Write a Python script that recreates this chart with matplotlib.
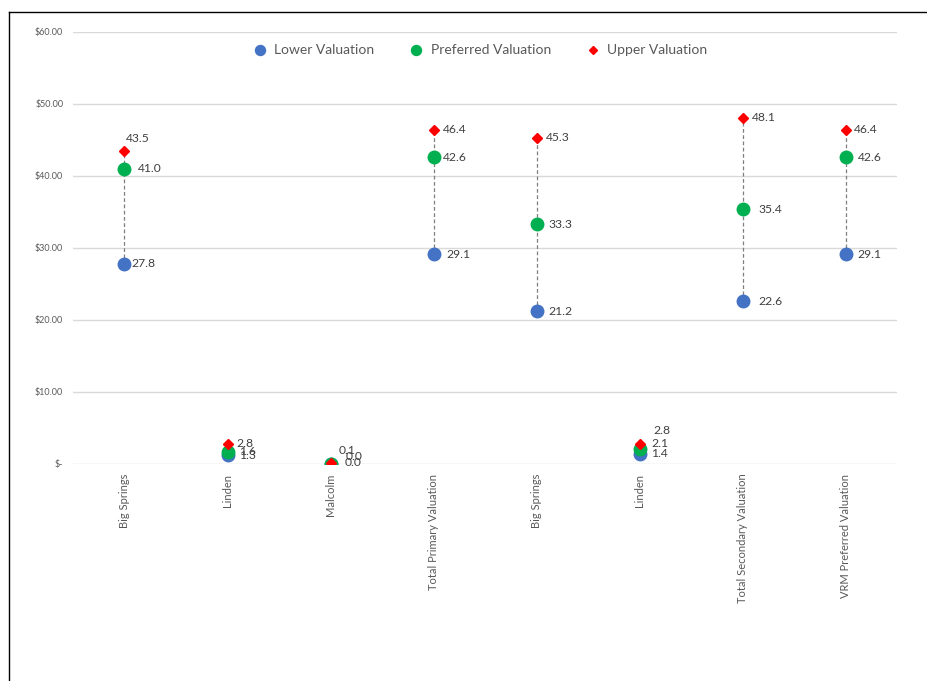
import matplotlib.pyplot as plt
from matplotlib.lines import Line2D
import numpy as np

plt.rcParams['font.family'] = ['Lato', 'DejaVu Sans']

categories = ["Big Springs", "Linden", "Malcolm", "Total Primary Valuation",
              "Big Springs", "Linden", "Total Secondary Valuation", "VRM Preferred Valuation"]
lower = [27.8, 1.3, 0.0, 29.1, 21.2, 1.4, 22.6, 29.1]
preferred = [41.0, 1.6, 0.0, 42.6, 33.3, 2.1, 35.4, 42.6]
upper = [43.5, 2.8, 0.1, 46.4, 45.3, 2.8, 48.1, 46.4]
y_ticks = [0, 10, 20, 30, 40, 50, 60]
y_tick_labels = ["$-", "$10.00", "$20.00", "$30.00", "$40.00", "$50.00", "$60.00"]

# label offsets in pixels (dx, dy), tuned by eye
off_lower = [(7, 0), (12, -1), (14, 2), (13, 0), (12, 0), (12, 0), (16, 0), (12, 0)]
off_pref = [(13, 0), (12, 1), (15, 8), (9, 0), (12, 0), (12, 5), (16, 0), (12, 0)]
off_upper = [(1, 12), (9, 0), (8, 13), (9, 0), (9, 0), (14, 13), (9, 0), (8, 0)]

blue = "#4472C4"
green = "#00B050"
red = "#FF0000"
grey_txt = "#595959"

fig = plt.figure(figsize=(9.28, 6.81), dpi=100)
ax = fig.add_axes([73 / 928, 1 - 464 / 681, (897 - 73) / 928, (464 - 32) / 681])

x = np.arange(len(categories))
ax.set_xlim(-0.5, len(categories) - 0.5)
ax.set_ylim(0, 60)

ax.vlines(x, lower, upper, colors="#7F7F7F", linestyles=(0, (3, 2)), linewidth=0.9, zorder=2)
ax.plot(x, lower, 'o', color=blue, markersize=9, linestyle='none', label="Lower Valuation", zorder=3)
ax.plot(x, preferred, 'o', color=green, markersize=9, linestyle='none', label="Preferred Valuation", zorder=4)
ax.plot(x, upper, 'D', color=red, markersize=5, linestyle='none', label="Upper Valuation", zorder=5)

for vals, offs in [(lower, off_lower), (preferred, off_pref), (upper, off_upper)]:
    for i, v in enumerate(vals):
        ax.annotate(f"{v:.1f}", (x[i], v), xytext=offs[i], textcoords='offset pixels',
                    ha='left', va='center', fontsize=8.7, color="#404040", zorder=6)

ax.set_yticks(y_ticks)
ax.set_yticklabels(y_tick_labels, fontsize=6.5, color=grey_txt)
ax.set_xticks(x)
ax.set_xticklabels(categories, rotation=90, fontsize=8.0, color=grey_txt, va='top')
ax.tick_params(length=0)
ax.tick_params(axis='y', pad=7)
ax.tick_params(axis='x', pad=7)
ax.grid(axis='y', color="#D9D9D9", linewidth=1)
ax.set_axisbelow(True)
for s in ax.spines.values():
    s.set_visible(False)

leg = ax.legend(loc='upper center', bbox_to_anchor=(0.49, 1.0), ncol=3, frameon=False,
                fontsize=10, handletextpad=0.05, columnspacing=2.0, markerscale=0.8)
for t in leg.get_texts():
    t.set_color(grey_txt)

# outer frame (only top and left edges are visible in the reference)
fig.add_artist(Line2D([9 / 928, 1], [1 - 12 / 681, 1 - 12 / 681], color='black', linewidth=1))
fig.add_artist(Line2D([9 / 928, 9 / 928], [0, 1 - 12 / 681], color='black', linewidth=1))

fig.savefig("out.png", dpi=100)
